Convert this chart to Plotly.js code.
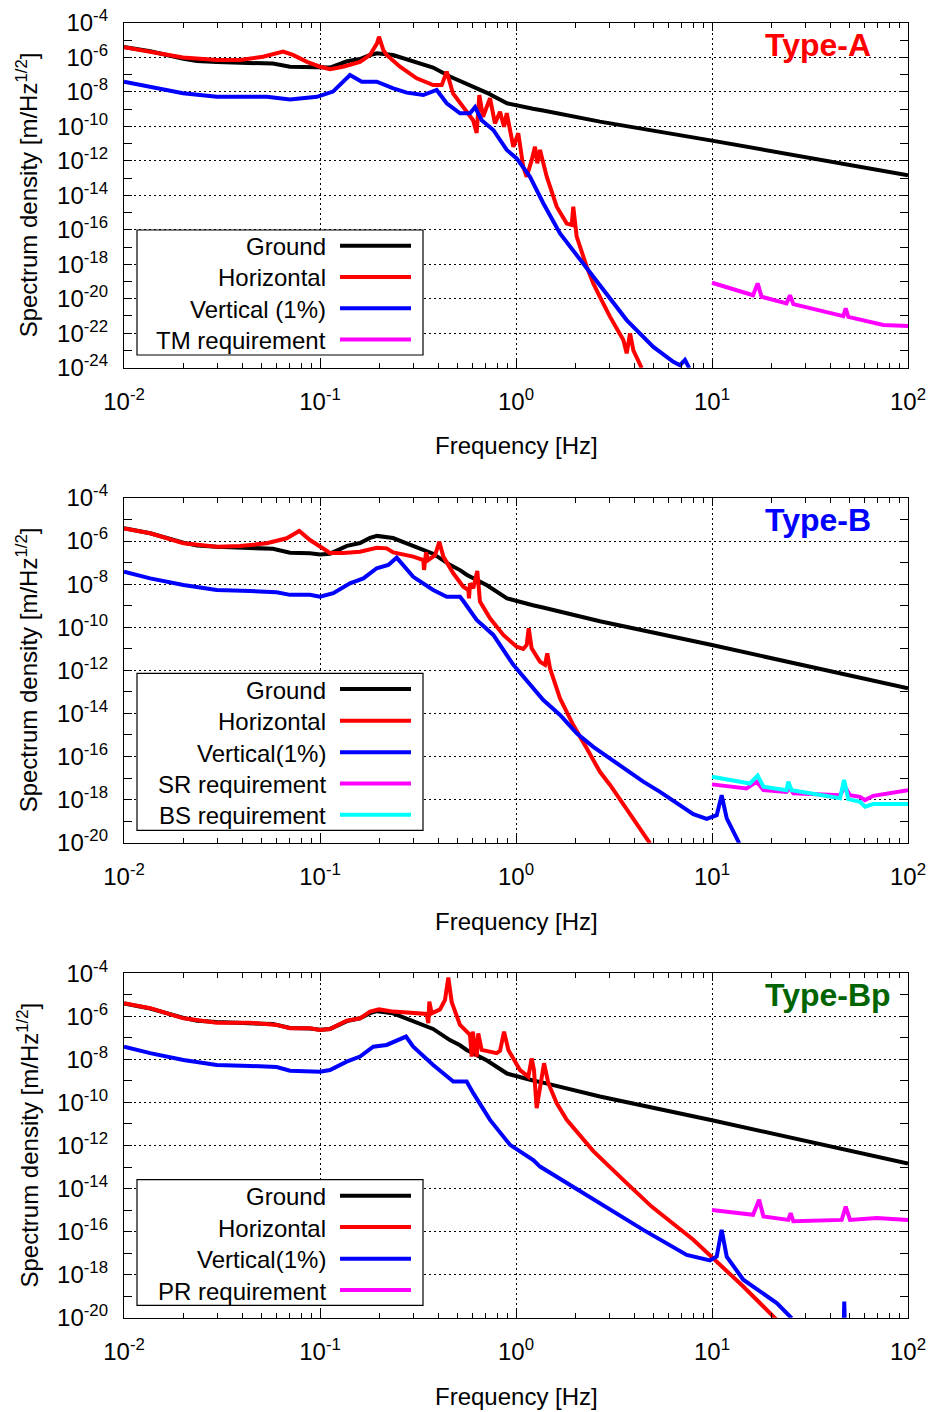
<!DOCTYPE html>
<html>
<head>
<meta charset="utf-8">
<script src="https://cdn.plot.ly/plotly-3.0.1.min.js"></script>
<style>html,body{margin:0;padding:0;background:#fff;}#chart{width:930px;height:1412px;}</style>
</head>
<body>
<div id="chart"></div>
<script>
// ---------------- DATA ----------------
// Ground motion (same in all three panels)
const groundF = [0.01, 0.0136, 0.0201, 0.0236, 0.0297, 0.036, 0.044, 0.0575, 0.0703, 0.0889, 0.1, 0.1125, 0.1373, 0.16, 0.18, 0.1954, 0.2357, 0.2877, 0.3775, 0.46, 0.518, 0.56, 0.604, 0.711, 0.9, 1.0, 1.22, 1.373, 1.82, 2.68, 10, 100];
const groundV = [4.0e-6, 2.3e-6, 8.5e-7, 6.3e-7, 5.4e-7, 5.0e-7, 5.0e-7, 4.4e-7, 2.9e-7, 2.75e-7, 2.4e-7, 2.6e-7, 6.0e-7, 8.1e-7, 1.4e-6, 1.74e-6, 1.38e-6, 7.1e-7, 2.6e-7, 7.9e-8, 4.5e-8, 2.75e-8, 1.9e-8, 8.9e-9, 2.2e-9, 1.66e-9, 1.05e-9, 8.3e-10, 4.5e-10, 1.9e-10, 1.5e-11, 1.45e-13];

// Type-A
const aHorF = [0.01, 0.0136, 0.02, 0.0298, 0.0391, 0.0512, 0.0648, 0.0728, 0.0858, 0.1, 0.1125, 0.131, 0.16, 0.18, 0.1954, 0.2, 0.2104, 0.2188, 0.256, 0.3114, 0.378, 0.418, 0.443, 0.477, 0.498, 0.56, 0.604, 0.63, 0.65, 0.679, 0.737, 0.781, 0.829, 0.869, 0.897, 0.969, 1.027, 1.089, 1.134, 1.202, 1.25, 1.284, 1.326, 1.435, 1.614, 1.815, 1.924, 1.96, 2.04, 2.295, 2.48, 2.68, 3.02, 3.53, 3.67, 3.82, 3.97, 4.38];
const aHorV = [3.9e-6, 2.2e-6, 1.0e-6, 7.1e-7, 7.1e-7, 1.1e-6, 2.2e-6, 1.4e-6, 5.6e-7, 2.9e-7, 2.1e-7, 2.9e-7, 5.6e-7, 1.4e-6, 6.6e-6, 1.6e-5, 2.7e-6, 1.4e-6, 2.9e-7, 6.2e-8, 2.5e-8, 2.5e-8, 1.5e-7, 8.3e-9, 4.3e-9, 8.9e-10, 2.3e-10, 4.2e-11, 6.6e-9, 3.6e-10, 4.3e-9, 1.5e-10, 7.1e-10, 9.5e-11, 5.8e-10, 6.6e-12, 4.0e-11, 4.6e-13, 1.2e-13, 1.1e-12, 6.6e-12, 7.2e-13, 4.3e-12, 1.2e-13, 2.2e-15, 2.3e-16, 1.9e-16, 2.2e-15, 4.0e-17, 7.2e-19, 7.8e-20, 1.3e-20, 8.9e-22, 4.0e-23, 6.8e-24, 9.8e-23, 1.0e-23, 9.5e-25];
const aVerF = [0.01, 0.0136, 0.02, 0.0298, 0.0537, 0.0703, 0.0965, 0.1165, 0.131, 0.1422, 0.1633, 0.1947, 0.2366, 0.277, 0.3366, 0.3715, 0.3938, 0.443, 0.518, 0.5826, 0.618, 0.668, 0.766, 0.897, 1.008, 1.179, 1.378, 1.677, 2.205, 2.68, 3.67, 5.02, 6.35, 6.87, 7.28, 7.66];
const aVerV = [3.9e-8, 1.86e-8, 8.3e-9, 5.2e-9, 5.2e-9, 3.7e-9, 5.2e-9, 1.05e-8, 3.9e-8, 9.5e-8, 3.9e-8, 3.9e-8, 1.6e-8, 9.1e-9, 6.6e-9, 1.05e-8, 1.3e-8, 2.2e-9, 5.8e-10, 5.8e-10, 1.3e-9, 2.3e-10, 6.2e-11, 4.3e-12, 1.4e-12, 1.2e-13, 3.5e-15, 6.2e-17, 1.1e-18, 5.0e-20, 5.8e-22, 1.6e-23, 2.2e-24, 1.4e-24, 2.8e-24, 9.5e-25];
const aTmF = [10, 16.2, 17.1, 17.9, 24.0, 25.0, 26.0, 46.8, 48.1, 49.6, 74.8, 100];
const aTmV = [8.5e-20, 1.6e-20, 7.8e-20, 1.3e-20, 5.4e-21, 1.6e-20, 4.9e-21, 9.8e-22, 2.8e-21, 8.9e-22, 3.0e-22, 2.6e-22];

// Type-B
const bHorF = [0.01, 0.0136, 0.0201, 0.0297, 0.0391, 0.0535, 0.0676, 0.0784, 0.0889, 0.1, 0.1125, 0.1315, 0.16, 0.1947, 0.2188, 0.2366, 0.299, 0.3366, 0.3394, 0.3475, 0.357, 0.3862, 0.4062, 0.4258, 0.4786, 0.5385, 0.5711, 0.5758, 0.5826, 0.6055, 0.6347, 0.655, 0.737, 0.8616, 1.008, 1.089, 1.134, 1.161, 1.202, 1.326, 1.406, 1.444, 1.491, 1.677, 1.96, 2.295, 2.68, 3.02, 4.83];
const bHorV = [3.9e-6, 2.3e-6, 7.9e-7, 5.5e-7, 5.9e-7, 7.9e-7, 1.35e-6, 2.95e-6, 1.12e-6, 5.5e-7, 2.8e-7, 2.8e-7, 3.2e-7, 4.9e-7, 4.6e-7, 3.0e-7, 1.9e-7, 1.32e-7, 4.6e-8, 3.0e-7, 1.32e-7, 2.2e-7, 9.3e-7, 1.9e-7, 3.2e-8, 7.6e-9, 5.4e-9, 2.2e-9, 1.1e-8, 6.5e-9, 4.1e-8, 1.55e-9, 2.6e-10, 4.4e-11, 1.26e-11, 9.8e-12, 1.5e-11, 8.9e-11, 1.05e-11, 2.5e-12, 1.8e-12, 6.2e-12, 1.23e-12, 5.0e-14, 2.9e-15, 2.4e-16, 1.95e-17, 4.8e-18, 9.3e-21];
const bVerF = [0.01, 0.0136, 0.0201, 0.0297, 0.044, 0.0601, 0.0703, 0.0889, 0.1, 0.1169, 0.1422, 0.1664, 0.1947, 0.2231, 0.2462, 0.299, 0.378, 0.443, 0.518, 0.5385, 0.63, 0.766, 0.969, 1.225, 1.378, 1.677, 2.04, 2.48, 3.02, 3.67, 4.46, 5.43, 6.6, 8.03, 9.4, 10.57, 11.2, 11.89, 13.78];
const bVerV = [3.8e-8, 1.86e-8, 9.1e-9, 5.4e-9, 4.8e-9, 4.2e-9, 3.2e-9, 3.2e-9, 2.6e-9, 3.8e-9, 1.1e-8, 1.86e-8, 5.5e-8, 7.8e-8, 1.7e-7, 2.2e-8, 5.4e-9, 2.6e-9, 2.6e-9, 1.66e-9, 2.2e-10, 4.4e-11, 1.8e-12, 1.48e-13, 4.2e-14, 8.5e-15, 1.2e-15, 2.8e-16, 8.1e-17, 2.3e-17, 6.8e-18, 2.3e-18, 6.8e-19, 2.1e-19, 1.26e-19, 1.9e-19, 1.6e-18, 1.35e-19, 9.3e-21];
const bSrF = [10, 15.0, 16.9, 18.3, 24.0, 25.0, 26.0, 45.0, 47.7, 50.6, 56.9, 60.3, 66.5, 100];
const bSrV = [5.1e-18, 3.3e-18, 6.8e-18, 2.75e-18, 2.3e-18, 3.5e-18, 1.95e-18, 1.6e-18, 4.0e-18, 1.6e-18, 1.35e-18, 9.5e-19, 1.5e-18, 2.75e-18];
const bBsF = [10, 15.6, 17.1, 18.3, 24.0, 24.5, 25.5, 45.0, 47.2, 49.6, 56.9, 60.3, 66.5, 100];
const bBsV = [1.15e-17, 5.6e-18, 1.3e-17, 4.0e-18, 2.75e-18, 6.8e-18, 2.75e-18, 1.15e-18, 8.1e-18, 1.05e-18, 7.9e-19, 4.7e-19, 6.2e-19, 6.2e-19];

// Type-Bp
const bpHorF = [0.01, 0.0136, 0.0201, 0.0297, 0.044, 0.0601, 0.0703, 0.0889, 0.1, 0.1125, 0.1368, 0.16, 0.18, 0.2, 0.2366, 0.299, 0.3503, 0.357, 0.3612, 0.3715, 0.4095, 0.4343, 0.4515, 0.47, 0.518, 0.5826, 0.594, 0.601, 0.618, 0.63, 0.642, 0.668, 0.797, 0.829, 0.869, 0.914, 1.048, 1.156, 1.202, 1.235, 1.275, 1.352, 1.39, 1.462, 1.614, 1.815, 2.205, 2.48, 3.67, 4.92, 8.03, 10.15, 14.44, 21.4];
const bpHorV = [4.1e-6, 2.4e-6, 8.1e-7, 5.1e-7, 5.1e-7, 4.0e-7, 2.8e-7, 2.8e-7, 2.3e-7, 2.6e-7, 6.3e-7, 8.1e-7, 1.66e-6, 2.1e-6, 1.66e-6, 1.48e-6, 1.29e-6, 4.8e-7, 4.8e-6, 1.38e-6, 2.1e-6, 5.8e-6, 6.3e-5, 4.5e-6, 4.0e-7, 1.38e-7, 1.35e-8, 1.95e-7, 2.75e-8, 1.35e-8, 1.6e-7, 2.75e-8, 1.95e-8, 2.5e-8, 1.95e-7, 2.75e-8, 3.2e-9, 1.6e-9, 1.1e-8, 3.2e-9, 5.4e-11, 1.1e-9, 6.6e-9, 7.8e-10, 9.1e-11, 1.55e-11, 1.8e-12, 5.5e-13, 1.78e-14, 1.45e-15, 4.2e-17, 5.9e-18, 2.8e-19, 7.9e-21];
const bpVerF = [0.01, 0.0136, 0.0201, 0.0297, 0.044, 0.0601, 0.0703, 0.0889, 0.1, 0.1125, 0.1368, 0.16, 0.187, 0.2188, 0.2462, 0.2747, 0.299, 0.378, 0.4786, 0.56, 0.6055, 0.737, 0.932, 1.225, 1.326, 1.815, 2.48, 4.46, 7.43, 9.77, 10.57, 11.2, 11.89, 14.44, 21.4, 25.5, null, 46.8, 47.3, 47.8];
const bpVerV = [3.9e-8, 1.95e-8, 9.3e-9, 5.5e-9, 5.0e-9, 4.4e-9, 3.0e-9, 3.0e-9, 2.7e-9, 3.2e-9, 7.9e-9, 1.35e-8, 3.9e-8, 4.7e-8, 7.4e-8, 1.15e-7, 3.9e-8, 5.5e-9, 9.3e-10, 9.3e-10, 2.7e-10, 1.55e-11, 1.07e-12, 2.1e-13, 1.05e-13, 1.78e-14, 3.0e-15, 1.2e-16, 8.3e-18, 4.6e-18, 6.9e-18, 1.2e-16, 6.9e-18, 5.8e-19, 4.8e-20, 9.5e-21, null, 1e-21, 5.6e-20, 1e-21];
const bpPrF = [10, 16.2, 17.4, 18.3, 24.5, 25.2, 26.0, 45.9, 48.1, 50.6, 69.2, 100];
const bpPrV = [1.0e-15, 6.0e-16, 3.0e-15, 5.0e-16, 3.5e-16, 7.2e-16, 3.0e-16, 3.5e-16, 1.45e-15, 3.5e-16, 4.3e-16, 3.5e-16];

// Labels
const aNames = ['Ground', 'Horizontal', 'Vertical (1%)', 'TM requirement'];
const bNames = ['Ground', 'Horizontal', 'Vertical(1%)', 'SR requirement', 'BS requirement'];
const bpNames = ['Ground', 'Horizontal', 'Vertical(1%)', 'PR requirement'];
const panelTitles = ['Type-A', 'Type-B', 'Type-Bp'];
const xTickVals = [0.01, 0.1, 1, 10, 100];
const xTickText = ['10<sup>-2</sup>', '10<sup>-1</sup>', '10<sup>0</sup>', '10<sup>1</sup>', '10<sup>2</sup>'];
const yTickValsA = [1e-4, 1e-6, 1e-8, 1e-10, 1e-12, 1e-14, 1e-16, 1e-18, 1e-20, 1e-22, 1e-24];
const yTickTextA = ['10<sup>-4</sup>', '10<sup>-6</sup>', '10<sup>-8</sup>', '10<sup>-10</sup>', '10<sup>-12</sup>', '10<sup>-14</sup>', '10<sup>-16</sup>', '10<sup>-18</sup>', '10<sup>-20</sup>', '10<sup>-22</sup>', '10<sup>-24</sup>'];
const yTickValsB = [1e-4, 1e-6, 1e-8, 1e-10, 1e-12, 1e-14, 1e-16, 1e-18, 1e-20];
const yTickTextB = ['10<sup>-4</sup>', '10<sup>-6</sup>', '10<sup>-8</sup>', '10<sup>-10</sup>', '10<sup>-12</sup>', '10<sup>-14</sup>', '10<sup>-16</sup>', '10<sup>-18</sup>', '10<sup>-20</sup>'];
const xTitle = 'Frequency [Hz]';
const yTitle = 'Spectrum density [m/Hz<sup>1/2</sup>]';

// ---------------- LAYOUT HELPERS ----------------
const W = 930, H = 1412;
const FONT = 'Liberation Sans, Arial, Helvetica, sans-serif';
const px = x => x / W;
const py = y => 1 - y / H;
const COL = {ground: '#000000', hor: '#ff0000', ver: '#0000ff', mag: '#ff00ff', cyan: '#00ffff'};
const LW = 4;

const xMinor = [];
for (let e = -2; e < 2; e++) for (let m = 2; m <= 9; m++) xMinor.push(m * Math.pow(10, e));
function yMinor(lo, hi) { const r = []; for (let e = lo + 1; e < hi; e += 2) r.push(Math.pow(10, e)); return r; }

const panels = [
  {top: 23, bot: 367.7, yr: [-24, -4], tv: yTickValsA, tt: yTickTextA, ym: yMinor(-24, -4),
   names: aNames, title: panelTitles[0], tcol: '#ff0000', titleY: 45,
   series: [[groundF, groundV, COL.ground], [aHorF, aHorV, COL.hor], [aVerF, aVerV, COL.ver], [aTmF, aTmV, COL.mag]],
   leg: {x0: 137, x1: 423, y0: 230, y1: 355, rows: [245.7, 276.9, 308.3, 339.6]}, xt: 446},
  {top: 498, bot: 842.7, yr: [-20, -4], tv: yTickValsB, tt: yTickTextB, ym: yMinor(-20, -4),
   names: bNames, title: panelTitles[1], tcol: '#0000ff', titleY: 520,
   series: [[groundF, groundV, COL.ground], [bHorF, bHorV, COL.hor], [bVerF, bVerV, COL.ver], [bSrF, bSrV, COL.mag], [bBsF, bBsV, COL.cyan]],
   leg: {x0: 137, x1: 423, y0: 673.3, y1: 830.3, rows: [689, 720.7, 752.3, 783.5, 814.7]}, xt: 921},
  {top: 973.3, bot: 1317.7, yr: [-20, -4], tv: yTickValsB, tt: yTickTextB, ym: yMinor(-20, -4),
   names: bpNames, title: panelTitles[2], tcol: '#006400', titleY: 995,
   series: [[groundF, groundV, COL.ground], [bpHorF, bpHorV, COL.hor], [bpVerF, bpVerV, COL.ver], [bpPrF, bpPrV, COL.mag]],
   leg: {x0: 137, x1: 423, y0: 1179.7, y1: 1305.3, rows: [1195.7, 1227, 1258.7, 1290]}, xt: 1396}
];

const data = [];
const layout = {
  width: W, height: H, margin: {l: 0, r: 0, t: 0, b: 0},
  paper_bgcolor: '#ffffff', plot_bgcolor: '#ffffff',
  font: {family: FONT, size: 24, color: '#000'},
  showlegend: false, annotations: [], shapes: []
};

const axisCommon = {
  type: 'log', showline: true, linecolor: '#000', linewidth: 1.2, mirror: 'allticks',
  ticks: 'inside', ticklen: 8, tickwidth: 1, tickcolor: '#000',
  showgrid: true, gridcolor: '#000', gridwidth: 1, griddash: '2px,3px', zeroline: false,
  tickfont: {family: FONT, size: 24, color: '#000'}, fixedrange: true
};

panels.forEach((p, i) => {
  const n = i === 0 ? '' : String(i + 1);
  const xa = 'x' + n, ya = 'y' + n;
  layout['xaxis' + n] = Object.assign({}, axisCommon, {
    domain: [px(124), px(908)], anchor: ya, range: [-2, 2],
    tickmode: 'array', tickvals: xTickVals, ticktext: xTickText, ticklabelstandoff: 12,
    minor: {tickmode: 'array', tickvals: xMinor, ticks: 'inside', ticklen: 5, tickwidth: 1, tickcolor: '#000', showgrid: false}
  });
  layout['yaxis' + n] = Object.assign({}, axisCommon, {
    domain: [py(p.bot), py(p.top)], anchor: xa, range: p.yr,
    tickmode: 'array', tickvals: p.tv, ticktext: p.tt, ticklabelstandoff: 10,
    minor: {tickmode: 'array', tickvals: p.ym, ticks: 'inside', ticklen: 8, tickwidth: 1, tickcolor: '#000', showgrid: false}
  });
  p.series.forEach((s, k) => {
    data.push({type: 'scatter', mode: 'lines', x: s[0], y: s[1], name: p.names[k],
      xaxis: xa, yaxis: ya, line: {color: s[2], width: LW}, connectgaps: false, hoverinfo: 'skip'});
  });
  // panel title
  layout.annotations.push({xref: 'paper', yref: 'paper', x: px(763), y: py(p.titleY), xanchor: 'left', yanchor: 'middle',
    text: '<b>' + p.title + '</b>', showarrow: false, font: {family: FONT, size: 32, color: p.tcol}});
  // axis titles
  layout.annotations.push({xref: 'paper', yref: 'paper', x: px(516), y: py(p.xt), xanchor: 'center', yanchor: 'middle',
    text: xTitle, showarrow: false, font: {family: FONT, size: 24, color: '#000'}});
  layout.annotations.push({xref: 'paper', yref: 'paper', x: px(27), y: py((p.top + p.bot) / 2), xanchor: 'center', yanchor: 'middle',
    text: yTitle, textangle: -90, showarrow: false, font: {family: FONT, size: 24, color: '#000'}});
  // legend box
  const L = p.leg;
  layout.shapes.push({type: 'rect', xref: 'paper', yref: 'paper', x0: px(L.x0), x1: px(L.x1), y0: py(L.y1), y1: py(L.y0),
    line: {color: '#000', width: 1.2}, fillcolor: '#fff', layer: 'above'});
  L.rows.forEach((ry, k) => {
    layout.shapes.push({type: 'line', xref: 'paper', yref: 'paper', x0: px(340), x1: px(411), y0: py(ry), y1: py(ry),
      line: {color: p.series[k][2], width: LW}, layer: 'above'});
    layout.annotations.push({xref: 'paper', yref: 'paper', x: px(328), y: py(ry + 1), xanchor: 'right', yanchor: 'middle',
      text: p.names[k], showarrow: false, font: {family: FONT, size: 24, color: '#000'}});
  });
});

Plotly.newPlot('chart', data, layout, {staticPlot: true, displayModeBar: false});
</script>
</body>
</html>
